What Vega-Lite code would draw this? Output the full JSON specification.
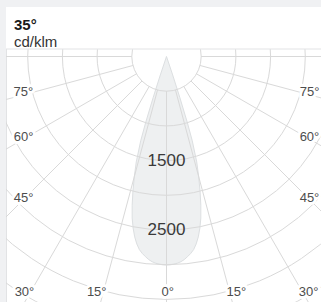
{
  "$schema": "https://vega.github.io/schema/vega-lite/v6.json",
  "background": "#f0f1f3",
  "padding": {"left": 5, "top": 7, "right": 0, "bottom": 0},
  "width": 316,
  "height": 295,
  "config": {"view": {"fill": "white", "stroke": "#e2e3e5"}, "font": "Liberation Sans"},
  "title": {
    "text": "35°",
    "subtitle": "cd/klm",
    "anchor": "start",
    "frame": "group",
    "orient": "top",
    "offset": -43,
    "dx": 8,
    "font": "Liberation Sans",
    "fontSize": 15,
    "fontWeight": "bold",
    "color": "#1a1a1a",
    "subtitleFont": "Liberation Sans",
    "subtitleFontSize": 15,
    "subtitleColor": "#333333",
    "subtitlePadding": 2,
    "zindex": 1
  },
  "datasets": {
    "beam": [
      {"theta": -19, "cd": 0}, {"theta": -18.5, "cd": 280}, {"theta": -18, "cd": 620}, {"theta": -17.5, "cd": 1000},
      {"theta": -17, "cd": 1270}, {"theta": -16, "cd": 1580}, {"theta": -15, "cd": 1790}, {"theta": -14, "cd": 2000},
      {"theta": -13, "cd": 2200}, {"theta": -12, "cd": 2380}, {"theta": -11, "cd": 2520}, {"theta": -10, "cd": 2640},
      {"theta": -9, "cd": 2735}, {"theta": -8, "cd": 2810}, {"theta": -7, "cd": 2860}, {"theta": -6, "cd": 2900},
      {"theta": -5, "cd": 2938}, {"theta": -4, "cd": 2965}, {"theta": -3, "cd": 2983}, {"theta": -2, "cd": 2995},
      {"theta": -1, "cd": 3003}, {"theta": 0, "cd": 3005},
      {"theta": 1, "cd": 3003}, {"theta": 2, "cd": 2995}, {"theta": 3, "cd": 2983}, {"theta": 4, "cd": 2965},
      {"theta": 5, "cd": 2938}, {"theta": 6, "cd": 2900}, {"theta": 7, "cd": 2860}, {"theta": 8, "cd": 2810},
      {"theta": 9, "cd": 2735}, {"theta": 10, "cd": 2640}, {"theta": 11, "cd": 2520}, {"theta": 12, "cd": 2380},
      {"theta": 13, "cd": 2200}, {"theta": 14, "cd": 2000}, {"theta": 15, "cd": 1790}, {"theta": 16, "cd": 1580},
      {"theta": 17, "cd": 1270}, {"theta": 17.5, "cd": 1000}, {"theta": 18, "cd": 620}, {"theta": 18.5, "cd": 280},
      {"theta": 19, "cd": 0}
    ],
    "spokes": [
      {"theta": -90}, {"theta": -75}, {"theta": -60}, {"theta": -45}, {"theta": -30}, {"theta": -15}, {"theta": 0},
      {"theta": 15}, {"theta": 30}, {"theta": 45}, {"theta": 60}, {"theta": 75}, {"theta": 90}
    ],
    "rings": [
      {"cd": 500}, {"cd": 1000}, {"cd": 1500}, {"cd": 2000}, {"cd": 2500}, {"cd": 3000}, {"cd": 3500}, {"cd": 4000}
    ],
    "angleLabels": [
      {"theta": -76.2, "r": 2123, "label": "75°"},
      {"theta": -60.6, "r": 2365, "label": "60°"},
      {"theta": -45.2, "r": 2904, "label": "45°"},
      {"theta": -31.1, "r": 3963, "label": "30°"},
      {"theta": -16.5, "r": 3541, "label": "15°"},
      {"theta": 0.3, "r": 3394, "label": "0°"},
      {"theta": 16.5, "r": 3541, "label": "15°"},
      {"theta": 31.1, "r": 3963, "label": "30°"},
      {"theta": 45.2, "r": 2904, "label": "45°"},
      {"theta": 60.6, "r": 2365, "label": "60°"},
      {"theta": 76.2, "r": 2123, "label": "75°"}
    ],
    "ringLabels": [{"cd": 1500, "label": "1500"}, {"cd": 2500, "label": "2500"}],
    "header": [{"top": 2000, "bottom": 108}]
  },
  "layer": [
    {
      "data": {"name": "beam"},
      "transform": [
        {"filter": "datum.theta >= 0"},
        {"calculate": "datum.cd * sin(datum.theta * PI / 180)", "as": "bx"},
        {"calculate": "-datum.bx", "as": "bx2"},
        {"calculate": "-datum.cd * cos(datum.theta * PI / 180)", "as": "by"}
      ],
      "mark": {"type": "area", "orient": "horizontal", "fill": "#eef0f1", "clip": true},
      "encoding": {
        "x": {"field": "bx", "type": "quantitative", "scale": {"domain": [-2313, 2241], "nice": false, "zero": false}, "axis": null},
        "x2": {"field": "bx2"},
        "y": {"field": "by", "type": "quantitative", "scale": {"domain": [-3538, 713.3], "nice": false, "zero": false}, "axis": null}
      }
    },
    {
      "data": {"name": "beam"},
      "transform": [
        {"calculate": "datum.cd * sin(datum.theta * PI / 180)", "as": "bx"},
        {"calculate": "-datum.cd * cos(datum.theta * PI / 180)", "as": "by"}
      ],
      "mark": {"type": "line", "stroke": "#dcdfe1", "strokeWidth": 1, "clip": true},
      "encoding": {
        "x": {"field": "bx", "type": "quantitative", "scale": {"domain": [-2313, 2241], "nice": false, "zero": false}, "axis": null},
        "y": {"field": "by", "type": "quantitative", "scale": {"domain": [-3538, 713.3], "nice": false, "zero": false}, "axis": null},
        "order": {"field": "theta", "type": "quantitative"}
      }
    },
    {
      "data": {"name": "spokes"},
      "transform": [
        {"calculate": "sin(datum.theta * PI / 180)", "as": "s"},
        {"calculate": "-cos(datum.theta * PI / 180)", "as": "c"},
        {"calculate": "500 * datum.s", "as": "x0"},
        {"calculate": "500 * datum.c", "as": "y0"},
        {"calculate": "6000 * datum.s", "as": "x1"},
        {"calculate": "6000 * datum.c", "as": "y1"}
      ],
      "mark": {"type": "rule", "stroke": "#d9d9d9", "strokeWidth": 1, "clip": true},
      "encoding": {
        "x": {"field": "x0", "type": "quantitative", "scale": {"domain": [-2313, 2241], "nice": false, "zero": false}, "axis": null},
        "y": {"field": "y0", "type": "quantitative", "scale": {"domain": [-3538, 713.3], "nice": false, "zero": false}, "axis": null},
        "x2": {"field": "x1"},
        "y2": {"field": "y1"}
      }
    },
    {
      "data": {"name": "rings"},
      "mark": {"type": "point", "shape": "circle", "filled": false, "color": "#d9d9d9", "strokeWidth": 1, "opacity": 1, "clip": true},
      "encoding": {
        "x": {"datum": 0, "type": "quantitative", "scale": {"domain": [-2313, 2241], "nice": false, "zero": false}, "axis": null},
        "y": {"datum": 0, "type": "quantitative", "scale": {"domain": [-3538, 713.3], "nice": false, "zero": false}, "axis": null},
        "size": {"field": "cd", "type": "quantitative", "scale": {"type": "pow", "exponent": 2, "domain": [0, 4000], "range": [0, 308247]}, "legend": null}
      }
    },
    {
      "data": {"name": "header"},
      "mark": {"type": "rect", "fill": "white", "clip": true},
      "encoding": {
        "y": {"field": "top", "type": "quantitative", "scale": {"domain": [-3538, 713.3], "nice": false, "zero": false}, "axis": null},
        "y2": {"field": "bottom"}
      }
    },
    {
      "data": {"name": "header"},
      "mark": {"type": "rule", "stroke": "#e2e3e5", "strokeWidth": 1},
      "encoding": {
        "y": {"field": "bottom", "type": "quantitative", "scale": {"domain": [-3538, 713.3], "nice": false, "zero": false}, "axis": null}
      }
    },
    {
      "data": {"name": "ringLabels"},
      "transform": [{"calculate": "-datum.cd", "as": "ly"}],
      "mark": {"type": "text", "fontSize": 17, "color": "#3a3a3a", "align": "center", "baseline": "middle", "font": "Liberation Sans"},
      "encoding": {
        "x": {"datum": 0, "type": "quantitative", "scale": {"domain": [-2313, 2241], "nice": false, "zero": false}, "axis": null},
        "y": {"field": "ly", "type": "quantitative", "scale": {"domain": [-3538, 713.3], "nice": false, "zero": false}, "axis": null},
        "text": {"field": "label", "type": "nominal"}
      }
    },
    {
      "data": {"name": "angleLabels"},
      "transform": [
        {"calculate": "datum.r * sin(datum.theta * PI / 180)", "as": "lx"},
        {"calculate": "-datum.r * cos(datum.theta * PI / 180)", "as": "ly"}
      ],
      "mark": {"type": "text", "fontSize": 13, "fill": "white", "stroke": "white", "strokeWidth": 6, "strokeJoin": "round", "align": "center", "baseline": "middle", "font": "Liberation Sans"},
      "encoding": {
        "x": {"field": "lx", "type": "quantitative", "scale": {"domain": [-2313, 2241], "nice": false, "zero": false}, "axis": null},
        "y": {"field": "ly", "type": "quantitative", "scale": {"domain": [-3538, 713.3], "nice": false, "zero": false}, "axis": null},
        "text": {"field": "label", "type": "nominal"}
      }
    },
    {
      "data": {"name": "angleLabels"},
      "transform": [
        {"calculate": "datum.r * sin(datum.theta * PI / 180)", "as": "lx"},
        {"calculate": "-datum.r * cos(datum.theta * PI / 180)", "as": "ly"}
      ],
      "mark": {"type": "text", "fontSize": 13, "color": "#4d4d4d", "align": "center", "baseline": "middle", "font": "Liberation Sans"},
      "encoding": {
        "x": {"field": "lx", "type": "quantitative", "scale": {"domain": [-2313, 2241], "nice": false, "zero": false}, "axis": null},
        "y": {"field": "ly", "type": "quantitative", "scale": {"domain": [-3538, 713.3], "nice": false, "zero": false}, "axis": null},
        "text": {"field": "label", "type": "nominal"}
      }
    }
  ]
}
